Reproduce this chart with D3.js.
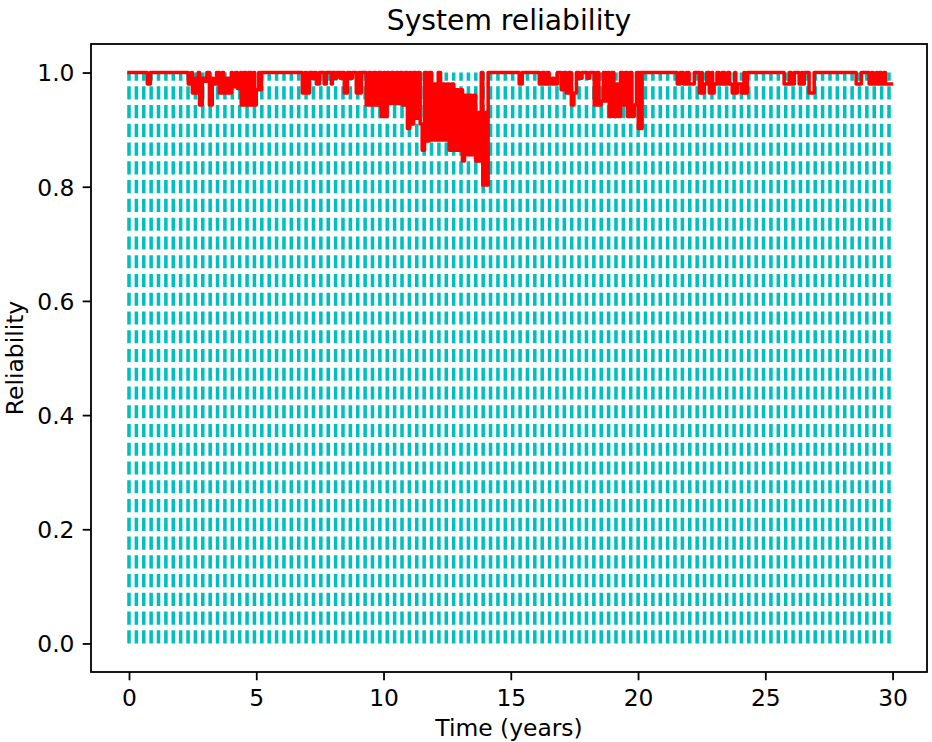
<!DOCTYPE html>
<html>
<head>
<meta charset="utf-8">
<script src="https://cdn.jsdelivr.net/npm/d3@7"></script>
<style>
  html, body { margin: 0; padding: 0; background: #fff; }
  svg { display: block; }
  text { font-family: "DejaVu Sans", sans-serif; fill: #000; }
</style>
</head>
<body>
<svg id="chart" width="932" height="742"></svg>
<script>
// ---- data -------------------------------------------------------------
const titleText = "System reliability";
const xLabelText = "Time (years)";
const yLabelText = "Reliability";

const xTicks = [0, 5, 10, 15, 20, 25, 30];
const yTicks = [0.0, 0.2, 0.4, 0.6, 0.8, 1.0];

// inspection instants: evenly spaced vertical markers from 0 up to 1
const inspectionCount = 104;
const inspectionEnd = 29.86;
const inspectionLow = 0;
const inspectionHigh = 1;

// system reliability as [time (years), reliability] change points
const reliabilitySteps = [
  [0, 1],
  [0.72, 0.98], [0.84, 1],
  [2.33, 0.98], [2.45, 1], [2.49, 0.964], [2.60, 0.99], [2.66, 0.964], [2.72, 1],
  [2.77, 0.943], [2.88, 0.99], [2.96, 0.985], [3.06, 1], [3.16, 0.943], [3.27, 0.99],
  [3.32, 0.98], [3.44, 1], [3.55, 0.964], [3.66, 1], [3.72, 0.964], [3.84, 0.99],
  [3.92, 0.964], [4.02, 1], [4.06, 0.975], [4.18, 1], [4.26, 0.972], [4.38, 1],
  [4.41, 0.943], [4.51, 1], [4.60, 0.943], [4.70, 1], [4.80, 0.943], [4.90, 1],
  [4.94, 0.943], [5.00, 0.97], [5.10, 1], [5.14, 0.97], [5.20, 1],
  [6.81, 0.964], [6.92, 1], [6.98, 0.964], [7.09, 1], [7.20, 0.99], [7.28, 1],
  [7.36, 0.98], [7.48, 1], [7.67, 0.98], [7.75, 1], [7.95, 0.98], [7.99, 1],
  [8.10, 0.99], [8.16, 1], [8.30, 0.99], [8.36, 1], [8.46, 0.964], [8.58, 1],
  [8.70, 0.99], [8.78, 1], [8.93, 0.964], [9.03, 1], [9.08, 0.964], [9.13, 1],
  [9.32, 0.943], [9.42, 1], [9.50, 0.943], [9.60, 1], [9.70, 0.943], [9.80, 1],
  [9.91, 0.923], [10.01, 1], [10.06, 0.923], [10.14, 1], [10.21, 0.946], [10.31, 1],
  [10.40, 0.946], [10.50, 1], [10.58, 0.946], [10.66, 1], [10.74, 0.943], [10.84, 1],
  [10.94, 0.902], [11.03, 1], [11.09, 0.91], [11.18, 1], [11.27, 0.92], [11.36, 1],
  [11.44, 0.91], [11.52, 0.864], [11.61, 1], [11.70, 0.88], [11.80, 1], [11.89, 0.882],
  [11.98, 0.98], [12.06, 0.882], [12.15, 1], [12.24, 0.882], [12.33, 0.98], [12.42, 0.882],
  [12.50, 0.98], [12.58, 0.864], [12.67, 0.98], [12.76, 0.864], [12.85, 0.97], [12.94, 0.864],
  [13.02, 0.97], [13.10, 0.845], [13.18, 0.96], [13.27, 0.856], [13.36, 0.96], [13.45, 0.856],
  [13.54, 0.96], [13.62, 0.845], [13.71, 0.93], [13.80, 0.845], [13.84, 1], [13.90, 0.803],
  [13.98, 0.93], [14.04, 0.803], [14.11, 1],
  [15.33, 0.98], [15.45, 1], [16.12, 0.98], [16.22, 1], [16.32, 0.98], [16.42, 1],
  [16.50, 0.98], [16.62, 0.99], [16.70, 0.98], [16.83, 1], [16.98, 0.97], [17.08, 1],
  [17.18, 0.964], [17.28, 1], [17.38, 0.943], [17.48, 0.964], [17.58, 1], [17.69, 0.99],
  [17.80, 1], [18.00, 0.99], [18.10, 1],
  [18.28, 0.943], [18.37, 1], [18.46, 0.943], [18.55, 0.95], [18.64, 1], [18.72, 0.95],
  [18.80, 1], [18.87, 0.923], [18.96, 1], [19.05, 0.923], [19.14, 0.98], [19.22, 0.923],
  [19.31, 1], [19.40, 0.943], [19.49, 1], [19.58, 0.923], [19.67, 1], [19.76, 0.923],
  [19.85, 0.943], [19.94, 1], [20.01, 0.902], [20.08, 1], [20.12, 0.902], [20.16, 1],
  [21.54, 0.98], [21.66, 1], [21.78, 0.98], [21.90, 1], [22.00, 0.98], [22.21, 1],
  [22.41, 0.964], [22.50, 1], [22.52, 0.964], [22.60, 0.98], [22.70, 1], [22.80, 0.964],
  [22.90, 1], [22.93, 0.964], [22.99, 0.98], [23.10, 1], [23.18, 0.98], [23.30, 1],
  [23.40, 0.98], [23.52, 1], [23.60, 0.98], [23.70, 0.964], [23.80, 1], [23.84, 0.964],
  [23.90, 0.98], [24.06, 0.964], [24.16, 1], [24.20, 0.964], [24.29, 1],
  [25.74, 0.98], [25.94, 1], [26.02, 0.98], [26.14, 1], [26.33, 0.98], [26.43, 1],
  [26.46, 0.98], [26.53, 1], [26.72, 0.964], [26.92, 1],
  [28.57, 0.98], [28.77, 1], [29.08, 0.98], [29.18, 1], [29.24, 0.98], [29.36, 1],
  [29.40, 0.98], [29.48, 1], [29.55, 0.98], [29.66, 1], [29.72, 0.98], [29.95, 0.98]
];

// ---- layout -----------------------------------------------------------
const frame = { left: 91, top: 44, right: 927, bottom: 672 };
const fontTick = 23.4, fontTitle = 28.2;

const svg = d3.select("#chart");

// x limits: data range of the inspection grid plus 5 % margins
const tMin = 0, tMax = inspectionEnd;
const tPad = 0.05 * (tMax - tMin);
const x = d3.scaleLinear().domain([tMin - tPad, tMax + tPad]).range([frame.left, frame.right]);
const y = d3.scaleLinear().domain([-0.05, 1.05]).range([frame.bottom, frame.top]);

svg.append("defs").append("clipPath").attr("id", "plotClip")
  .append("rect")
  .attr("x", frame.left).attr("y", frame.top)
  .attr("width", frame.right - frame.left).attr("height", frame.bottom - frame.top);
const plot = svg.append("g").attr("clip-path", "url(#plotClip)");

// inspection markers: dashed cyan verticals
const inspectionStep = inspectionEnd / (inspectionCount - 1);
const inspectionTimes = d3.range(inspectionCount).map(k => k * inspectionStep);
plot.append("g")
  .selectAll("line")
  .data(inspectionTimes)
  .join("line")
  .attr("x1", d => x(d)).attr("x2", d => x(d))
  .attr("y1", y(inspectionLow)).attr("y2", y(inspectionHigh))
  .attr("stroke", "#00bfbf")
  .attr("stroke-width", 3.54)
  .attr("stroke-dasharray", "13.1,5.66");

// reliability curve
const line = d3.line()
  .x(d => x(d[0]))
  .y(d => y(d[1]))
  .curve(d3.curveStepAfter);
plot.append("path")
  .datum(reliabilitySteps)
  .attr("d", line)
  .attr("fill", "none")
  .attr("stroke", "#ff0000")
  .attr("stroke-width", 3.54)
  .attr("stroke-linejoin", "round")
  .attr("stroke-linecap", "square");

// ---- axes -------------------------------------------------------------
const gx = svg.append("g")
  .attr("transform", `translate(0,${frame.bottom})`)
  .call(d3.axisBottom(x).tickValues(xTicks).tickFormat(d3.format("d"))
    .tickSize(8.3).tickPadding(9.1));

const gy = svg.append("g")
  .attr("transform", `translate(${frame.left},0)`)
  .call(d3.axisLeft(y).tickValues(yTicks).tickFormat(d3.format(".1f"))
    .tickSize(8.3).tickPadding(8.2));

[gx, gy].forEach(g => {
  g.select(".domain").remove();
  g.selectAll(".tick line").attr("stroke", "#000").attr("stroke-width", 1.8);
  g.selectAll(".tick text")
    .attr("font-family", "DejaVu Sans, sans-serif")
    .attr("font-size", fontTick)
    .attr("fill", "#000");
});
gy.selectAll(".tick text").attr("dy", "0.36em");

// axes frame
svg.append("rect")
  .attr("x", frame.left).attr("y", frame.top)
  .attr("width", frame.right - frame.left).attr("height", frame.bottom - frame.top)
  .attr("fill", "none")
  .attr("stroke", "#000")
  .attr("stroke-width", 1.8);

// ---- labels -----------------------------------------------------------
svg.append("text")
  .attr("x", (frame.left + frame.right) / 2)
  .attr("y", 30)
  .attr("text-anchor", "middle")
  .attr("font-size", fontTitle)
  .text(titleText);

svg.append("text")
  .attr("x", (frame.left + frame.right) / 2)
  .attr("y", 736)
  .attr("text-anchor", "middle")
  .attr("font-size", fontTick)
  .text(xLabelText);

svg.append("text")
  .attr("transform", `translate(22.5,${(frame.top + frame.bottom) / 2}) rotate(-90)`)
  .attr("text-anchor", "middle")
  .attr("font-size", fontTick)
  .text(yLabelText);
</script>
</body>
</html>
